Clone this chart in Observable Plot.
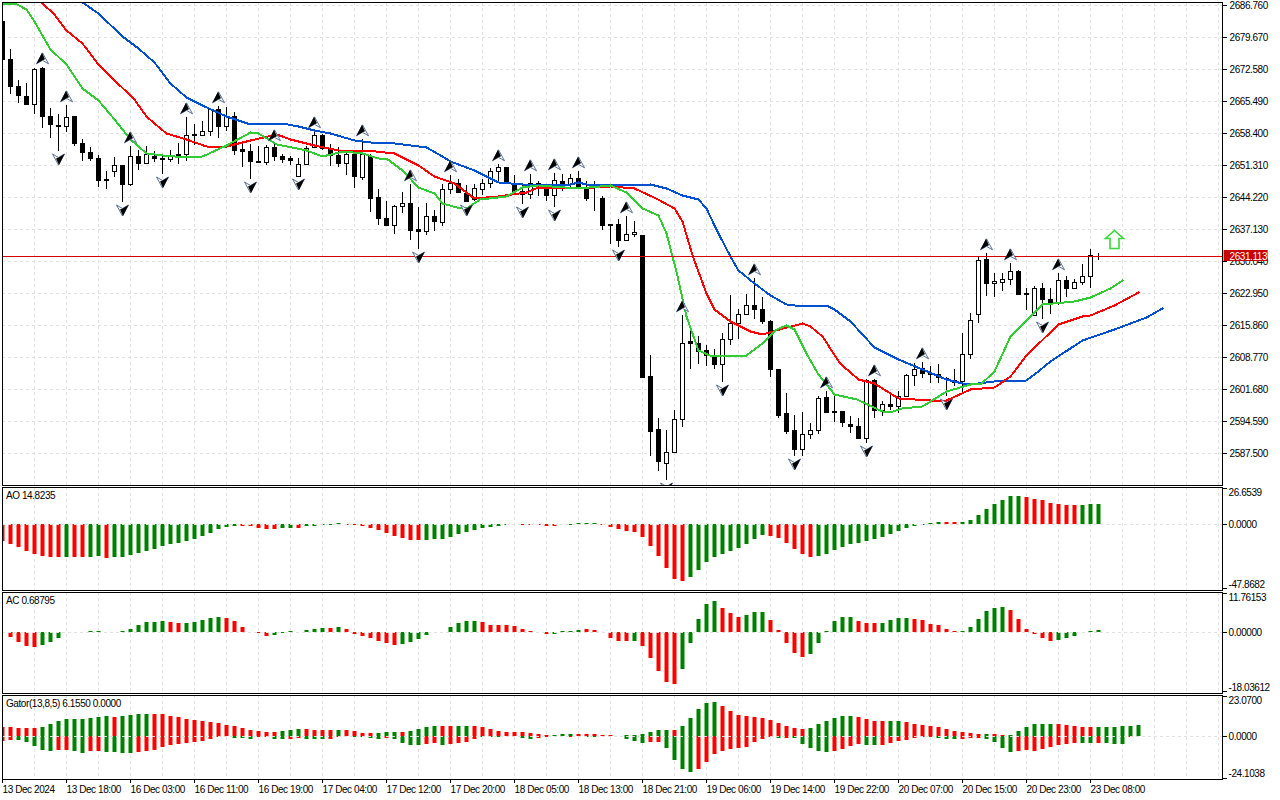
<!DOCTYPE html>
<html><head><meta charset="utf-8">
<script src="https://cdn.jsdelivr.net/npm/d3@7"></script>
<script src="https://cdn.jsdelivr.net/npm/@observablehq/plot@0.6"></script>
<style>html,body{margin:0;padding:0;background:#fff;overflow:hidden}svg{display:block}</style>
</head><body><div id="chart"></div>
<script>
const highs=[2683.2,2676.9,2670.1,2669.4,2672.7,2672.9,2663.9,2662.5,2664.5,2662.1,
2657.0,2655.2,2653.5,2649.9,2653.0,2651.3,2655.4,2654.6,2655.5,2654.3,
2653.2,2654.6,2656.0,2661.9,2660.2,2660.9,2663.9,2664.2,2664.1,2663.0,
2655.9,2655.8,2655.4,2655.6,2655.8,2653.7,2653.2,2652.8,2655.4,2658.7,
2658.1,2655.9,2655.2,2654.3,2654.6,2656.9,2653.7,2645.9,2643.2,2642.3,
2645.3,2646.9,2641.9,2642.8,2641.3,2646.9,2648.9,2648.1,2646.7,2646.9,
2648.0,2650.6,2651.5,2650.8,2648.9,2647.2,2649.1,2647.6,2646.9,2649.5,
2649.1,2649.3,2649.8,2647.6,2647.6,2644.4,2638.2,2639.3,2640.0,2638.8,
2635.8,2609.2,2595.2,2592.4,2597.0,2617.9,2615.5,2613.4,2611.4,2610.5,
2614.0,2622.5,2619.2,2622.7,2626.2,2622.0,2616.8,2606.0,2600.7,2595.9,
2596.5,2594.1,2600.0,2601.1,2600.1,2596.7,2595.5,2595.2,2603.7,2603.8,
2598.9,2600.7,2601.1,2605.0,2607.4,2607.5,2606.6,2607.0,2604.3,2606.0,
2614.0,2618.3,2631.0,2631.7,2627.3,2627.3,2629.4,2628.0,2624.0,2624.4,
2625.1,2624.0,2627.3,2626.7,2626.0,2629.2,2632.7,2631.7];
const bodyTops=[2683.2,2674.7,2668.8,2666.5,2672.5,2672.6,2662.1,2660.1,2661.9,2662.1,
2656.1,2654.1,2652.8,2648.0,2651.2,2651.3,2653.2,2653.2,2653.7,2653.2,
2652.8,2653.5,2653.7,2657.9,2658.1,2658.7,2663.6,2663.6,2662.1,2662.1,
2654.8,2654.3,2652.1,2655.2,2655.2,2653.1,2652.8,2651.5,2655.0,2657.9,
2657.9,2654.9,2653.5,2653.7,2653.7,2653.7,2653.3,2644.1,2639.5,2642.2,
2642.8,2642.8,2637.1,2640.0,2640.0,2645.9,2647.2,2647.2,2645.0,2646.1,
2647.2,2649.8,2650.8,2650.8,2646.9,2645.5,2647.2,2647.2,2646.1,2647.8,
2647.6,2648.3,2648.4,2645.9,2644.0,2643.9,2638.2,2638.2,2635.9,2636.3,
2635.7,2604.5,2592.8,2587.6,2595.0,2611.8,2612.1,2611.8,2610.3,2609.1,
2612.7,2616.2,2618.2,2620.2,2620.2,2619.3,2616.7,2606.0,2596.3,2592.4,
2591.6,2592.5,2599.6,2599.7,2596.7,2596.7,2593.9,2593.4,2603.5,2603.6,
2598.3,2598.3,2600.0,2604.6,2606.1,2606.3,2605.1,2604.9,2604.0,2603.5,
2609.4,2616.9,2630.2,2630.4,2625.5,2626.0,2627.7,2627.8,2622.9,2624.0,
2624.0,2621.6,2625.8,2625.8,2625.3,2626.6,2631.2,2631.3];
const bodyBottoms=[2674.8,2668.7,2666.7,2664.7,2664.7,2662.0,2660.2,2659.8,2659.8,2656.0,
2654.0,2652.7,2647.8,2647.8,2649.9,2647.0,2647.0,2651.6,2651.6,2652.7,
2652.5,2652.5,2653.5,2653.6,2657.9,2657.9,2658.7,2659.8,2659.8,2654.6,
2654.3,2652.1,2651.9,2651.9,2653.2,2652.6,2652.3,2648.8,2651.4,2655.2,
2654.9,2653.5,2651.6,2651.6,2648.7,2648.5,2643.8,2639.4,2637.9,2637.9,
2642.1,2636.8,2636.6,2636.5,2638.8,2638.5,2645.9,2645.2,2643.3,2643.6,
2645.9,2647.2,2649.8,2647.2,2645.4,2644.8,2644.8,2646.1,2644.5,2644.5,
2646.5,2646.9,2646.1,2643.9,2643.9,2637.9,2637.9,2634.6,2634.6,2635.9,
2604.3,2592.2,2585.6,2585.2,2587.6,2595.0,2611.8,2610.1,2609.1,2607.1,
2607.1,2612.7,2616.2,2618.2,2619.2,2616.6,2606.0,2595.9,2592.2,2588.3,
2588.3,2591.6,2592.5,2596.5,2596.5,2594.2,2593.3,2590.7,2590.7,2597.0,
2597.0,2597.8,2597.8,2600.0,2604.6,2605.2,2604.8,2604.2,2603.7,2603.1,
2603.3,2609.4,2618.2,2625.0,2625.0,2625.3,2626.0,2622.6,2622.6,2617.9,
2621.5,2620.9,2620.9,2623.9,2623.9,2625.3,2626.6,2631.2];
const lows=[2674.8,2667.0,2665.0,2664.4,2662.6,2659.4,2657.1,2654.3,2658.6,2655.4,
2652.0,2652.1,2646.3,2645.8,2648.5,2643.1,2646.5,2650.2,2651.6,2651.8,
2649.3,2651.8,2651.5,2652.1,2655.6,2657.8,2657.6,2657.1,2658.7,2653.5,
2650.7,2648.1,2651.7,2651.2,2652.0,2651.7,2651.1,2648.7,2651.1,2655.0,
2654.5,2650.9,2650.7,2648.9,2646.0,2647.8,2640.9,2637.9,2637.9,2635.9,
2640.5,2634.5,2632.7,2635.8,2636.5,2637.6,2644.7,2645.0,2643.0,2643.2,
2644.5,2646.1,2647.6,2646.9,2645.0,2642.5,2643.6,2644.3,2643.2,2641.9,
2645.4,2646.1,2645.8,2643.2,2641.0,2636.8,2633.6,2633.1,2634.5,2635.2,
2604.0,2586.8,2583.5,2581.5,2587.6,2593.1,2605.9,2607.1,2606.6,2606.0,
2603.1,2611.4,2612.7,2618.2,2617.0,2616.0,2604.2,2595.2,2591.7,2586.8,
2586.8,2590.4,2591.5,2596.3,2594.2,2593.2,2591.9,2590.4,2589.5,2595.2,
2595.6,2596.9,2596.3,2599.8,2602.2,2604.1,2602.8,2603.0,2600.0,2602.2,
2600.7,2608.3,2616.2,2622.1,2621.9,2623.3,2624.7,2622.3,2619.0,2617.9,
2617.0,2618.1,2620.1,2621.9,2623.9,2624.6,2624.0,2630.1];
const downBars=[0,1,2,3,5,6,7,9,10,11,12,13,15,17,19,20,24,27,29,30,31,32,34,35,36,40,41,42,44,46,47,48,51,52,54,57,58,63,64,65,67,68,70,72,73,74,75,76,77,80,81,82,86,87,88,89,94,95,96,97,98,99,103,104,105,106,107,109,111,115,116,117,118,119,123,127,128,130,131,133,137];

const jawBars=[9,10,12,15,17,19,21,23,25,28,31,35,37,39,41,44,46,49,53,55,56,59,62,65,71,72,73,76,79,81,83,85,87,88,89.3,91,92,94,96,98,99,103,104,106,109,112,115,118,120,122,124,128,129,131,135,139,143,145];
const jawValues=[2688.2,2687.3,2684.8,2679.8,2677.2,2674.1,2669.4,2666.2,2664.5,2662.0,2660.2,2660.4,2659.9,2658.9,2658.2,2656.7,2656.3,2656.0,2655.1,2653.3,2652.1,2650.2,2647.5,2647.0,2647.1,2647.5,2647.1,2646.9,2646.8,2647.0,2646.1,2644.5,2643.6,2641.7,2636.9,2631.0,2627.9,2625.0,2622.5,2620.5,2620.1,2620.1,2619.3,2616.6,2610.9,2608.3,2606.1,2603.8,2602.9,2602.8,2603.4,2603.5,2604.8,2607.7,2612.4,2614.8,2617.5,2619.5];
const teethBars=[4,4.8,6.4,8,10,12,14,16.4,18,19,20.5,23,25.5,28,31,34.3,36,39,42,45.5,49,52,54,56.5,59,62,65.5,67,72,76,79,81.7,84,85,86.3,88,89,91,93.5,95,97.6,100,101,102.5,104.7,107,109,112,116,118,121,124,126,128,132,135,136,139,142];
const teethValues=[2689.3,2687.3,2684.9,2681.2,2678.3,2673.6,2670.1,2666.1,2662.0,2660.4,2658.3,2657.0,2655.5,2655.4,2656.7,2658.0,2656.9,2655.7,2654.5,2654.6,2653.8,2651.3,2648.7,2647.3,2643.9,2644.4,2645.2,2646.3,2646.1,2646.5,2646.1,2643.8,2641.7,2638.8,2631.0,2622.9,2619.3,2616.6,2614.4,2613.7,2615.1,2616.2,2615.6,2613.3,2607.4,2603.7,2602.9,2599.6,2599.1,2599.2,2601.5,2602.0,2604.4,2609.2,2615.9,2617.7,2618.0,2620.1,2623.1];
const lipsBars=[0,1.8,3,4,6,8,10,12,14,16,18,20,23,25,28,31,32,34.3,38,40,42.6,45,47,48,50,52,54,55,56.8,58,59.7,63,65,67,72,76,78,80,82,83,84.3,85.5,87,88.7,90,93,95,96.8,98,99,100.5,102,104,106.8,110,111,112.4,115,118,121,122.4,124,126,130,134,136,138.5,140];
const lipsValues=[2687.1,2686.8,2685.7,2683.1,2677.0,2673.5,2668.3,2665.7,2661.3,2656.9,2653.9,2653.4,2653.0,2653.2,2655.7,2658.5,2658.3,2655.9,2654.5,2653.3,2654.3,2653.8,2652.8,2652.8,2650.2,2646.4,2645.0,2642.8,2641.9,2641.7,2643.6,2644.4,2646.4,2646.7,2646.1,2646.7,2645.2,2641.7,2640.1,2636.2,2627.3,2617.7,2610.3,2608.9,2609.2,2609.0,2611.8,2614.9,2615.7,2614.8,2609.6,2604.8,2600.4,2599.3,2596.7,2596.5,2597.3,2597.8,2601.1,2602.7,2602.9,2605.5,2613.3,2620.3,2621.0,2622.0,2624.0,2625.7];

const fractalUpBars=[5,8,16,23,27,34,39,45,51,56,62,66,69,72,78,85,94,103,109,115,123,126,132];
const fractalDownBars=[7,15,20,31,37,52,58,65,69,77,83,90,99,108,118,130];
const lastPrice=2631.113;
const signalBar=139, signalPrice=2634.7;

const aoValues=[-12.9,-14.7,-16.9,-19.9,-22.1,-23.6,-24.3,-24.3,-24.3,-24.3,-24.3,-24.3,-24.0,-25.1,-24.3,-24.3,-22.9,-21.4,-19.9,-18.4,-16.1,-14.7,-13.9,-12.4,-10.9,-8.7,-6.5,-3.5,-2.0,-1.2,-1.2,-1.7,-2.7,-3.5,-3.5,-2.7,-2.7,-2.7,-1.7,-1.5,-.7,-.7,.7,-.4,-.7,-1.2,-2.7,-4.2,-6.5,-8.7,-10.2,-11.7,-11.7,
-11.7,-11.0,-11.0,-9.5,-7.2,-5.7,-4.2,-2.7,-2.0,-1.2,-.5,.1,-.7,-.7,-.5,-1.2,-1.2,-.2,-.5,.7,.7,.7,-.5,-2.0,-3.5,-5.0,-5.7,-9.5,-16.1,-23.6,-32.5,-40.7,-42.2,-39.2,-34.0,-28.1,-24.3,-22.1,-19.9,-17.6,-14.7,-10.9,-7.9,-8.7,-10.2,-13.9,-18.4,-22.1,-24.3,-23.6,-22.1,-19.1,
-16.9,-14.7,-13.9,-12.4,-10.9,-9.5,-7.2,-5.0,-2.7,-1.2,-.5,.7,1.7,1.7,1.7,1.7,3.2,7.0,11.4,15.2,18.1,21.1,21.1,20.4,18.9,18.1,15.9,15.2,14.4,14.4,14.4,15.2,14.8235];
const aoRuns=[8,1,2,2,1,16,5,2,1,5,10,12,5,5,11,10,6,16,2,8,7,3];
const aoTicks=["26.6539","0.0000","-47.8682"];

const acValues=[-.1,-1.5,-3.0,-4.3,-4.6,-4.0,-3.0,-1.8,.1,.1,.05,.15,.15,.1,-.1,.2,.9,2.1,3.0,3.0,3.3,3.0,2.7,2.7,3.0,3.6,4.3,4.6,4.3,3.3,1.5,.1,-.4,-1.1,-.8,-.2,.2,.1,.5,.9,1.2,1.2,1.5,.9,-.5,-1.1,-1.8,-2.7,-3.3,-4.0,-3.6,-3.0,-2.1,
-.8,-.1,.1,1.5,2.7,3.3,3.3,3.0,2.1,2.1,2.1,1.8,.9,.3,.1,-.5,-.5,.2,.3,.7,.9,.6,-.1,-1.8,-2.9,-2.9,-2.7,-4.3,-7.9,-11.9,-15.2,-15.8,-11.3,-3.3,4.0,8.5,9.4,7.3,5.8,4.6,5.2,6.1,6.1,3.6,.6,-3.3,-6.4,-7.6,-6.7,-3.3,.2,3.3,
4.6,4.6,3.3,2.7,2.7,2.7,3.6,4.3,4.3,4.0,3.6,2.4,2.1,.9,.3,.3,1.5,4.0,6.4,7.3,7.6,6.7,4.0,.9,-.5,-1.8,-2.7,-2.4,-1.8,-1.1,-.1,.2,.68795];
const acRuns=[5,5,1,2,1,7,2,5,6,3,1,3,1,1,7,10,9,4,6,1,5,5,3,3,5,6,3,4,6,6,6,6];
const acTicks=["11.76153","0.00000","-18.03612"];

const gatorUpper=[5.2,5.2,4.6,4.6,4.6,5.2,6.9,8.7,9.8,9.8,9.8,10.4,11.0,11.6,11.0,11.6,12.1,12.7,12.7,12.7,12.7,11.6,11.0,9.8,9.2,8.7,8.1,7.5,6.4,5.8,4.6,3.5,2.9,2.3,2.3,2.9,3.5,4.0,4.0,3.5,3.5,3.5,3.5,3.5,2.9,1.7,1.7,1.7,2.3,2.3,2.3,2.9,4.0,
5.2,5.8,5.8,5.8,5.8,5.8,5.8,5.2,4.0,2.9,2.3,2.3,2.3,1.7,1.2,.6,.6,1.2,1.2,1.2,1.2,1.2,.6,.6,.1,.6,.6,1.2,2.3,3.5,3.5,3.5,5.8,10.4,15.6,19.1,19.7,17.3,14.5,12.1,11.6,11.0,10.4,9.2,7.5,5.8,4.6,4.0,4.6,6.9,8.7,10.4,
11.6,11.6,11.0,9.8,8.7,8.7,8.7,8.7,8.1,6.9,6.4,5.8,5.2,4.0,2.9,2.3,1.7,1.2,1.2,1.2,.6,.6,2.9,5.2,6.9,6.9,6.9,6.9,6.4,5.8,5.2,5.2,5.2,5.2,5.2,5.8,5.8,6.155];
const gatorUpperRuns=[5,9,1,4,16,3,4,1,4,3,1,4,2,2,10,3,5,7,1,5,11,6,4,2,10,1,2,6,5,6];
const gatorLower=[-2.9,-2.3,-2.3,-3.5,-5.8,-8.1,-8.7,-8.1,-8.1,-8.7,-9.8,-8.9,-8.7,-9.2,-9.2,-9.8,-9.8,-9.2,-8.7,-8.1,-6.4,-5.2,-4.6,-4.0,-3.5,-2.9,-1.7,-.6,-.2,-1.2,-1.2,-1.7,-.6,-.6,-1.7,-1.7,-1.7,-1.2,-1.7,-1.7,-1.7,-1.7,-.4,-.2,-.6,-.6,-1.2,-1.7,-1.2,-1.7,-4.0,-5.2,-5.2,
-4.6,-4.0,-5.2,-4.6,-4.0,-3.5,-1.7,-.4,-.4,-.4,-.1,-.2,-1.2,-1.7,-1.2,-.4,-.2,-.1,-.4,-.2,-.4,-.4,-.2,-.2,-.2,-1.7,-2.9,-4.0,-3.5,-3.5,-6.9,-13.9,-19.1,-20.8,-19.1,-15.0,-10.4,-8.7,-7.5,-6.9,-6.4,-3.5,-1.7,-.4,-1.0,-1.0,-1.2,-4.6,-6.9,-8.7,-9.2,-8.7,
-7.5,-5.8,-4.6,-5.2,-5.2,-5.2,-4.0,-2.9,-2.3,-1.2,-.6,-.4,-1.2,-1.7,-1.7,-1.7,-1.2,-1.2,-1.7,-3.5,-6.9,-9.2,-8.7,-8.1,-8.7,-7.5,-6.4,-5.2,-4.6,-4.0,-4.0,-4.0,-4.0,-4.0,-4.6,-4.6,-.6,-.2];
const gatorLowerRuns=[2,5,2,2,2,4,12,3,2,2,2,3,3,4,1,4,2,1,4,7,2,2,2,3,1,4,2,4,10,1,1,5,4,2,7,3,3,4,8,2,1,3,2];
const gatorTicks=["23.0700","0.0000","-24.1038"];

const priceTicks=[2686.76,2679.67,2672.58,2665.49,2658.40,2651.31,2644.22,2637.13,2630.04,2622.95,2615.86,2608.77,2601.68,2594.59,2587.50];
const timeBars=[0,8,16,24,32,40,48,56,64,72,80,88,96,104,112,120,128,136];
const timeLabels=["13 Dec 2024","13 Dec 18:00","16 Dec 03:00","16 Dec 11:00","16 Dec 19:00","17 Dec 04:00","17 Dec 12:00","17 Dec 20:00","18 Dec 05:00","18 Dec 13:00","18 Dec 21:00","19 Dec 06:00","19 Dec 14:00","19 Dec 22:00","20 Dec 07:00","20 Dec 15:00","20 Dec 23:00","23 Dec 08:00"];

const GRID="#e2e2e2", DASH="3,3", GREEN="#008000", RED="#ff0000";
const gridBars=d3.range(0,153,4);
const xScale={domain:[0,152.5],label:null};
const baseStyle={fontFamily:"'Liberation Sans',sans-serif",fontSize:"10px",letterSpacing:"-0.42px",color:"#000",background:"#fff",overflow:"visible"};
const margins={width:1280,marginLeft:2,marginRight:58,marginTop:0};

const expand=runs=>runs.flatMap((n,k)=>d3.range(n).map(()=>k%2?GREEN:RED));
const bars=(values,runs)=>{const c=expand(runs);return values.map((v,i)=>({i,v,c:c[i]}));};
const histogram=data=>Plot.rect(data,{x1:d=>d.i-.25,x2:d=>d.i+.25,y1:0,y2:"v",fill:"c",dx:.5,clip:true});
const symbolOf=(pts)=>({draw(ctx){pts.forEach(([x,y],k)=>k?ctx.lineTo(x,y):ctx.moveTo(x,y));ctx.closePath();}});
const upFull=symbolOf([[0,-6],[6,5],[0,1.5],[-6,5]]), upHalf=symbolOf([[-.5,-6],[2.5,.5],[0,1.5],[-6,5]]);
const downFull=symbolOf([[0,6],[6,-5],[0,-1.5],[-6,-5]]), downHalf=symbolOf([[.5,6],[-2.5,-.5],[0,-1.5],[6,-5]]);
const bigArrow=symbolOf([[0,-9],[9,-1],[4.5,-1],[4.5,9],[-4.5,9],[-4.5,-1],[-9,-1]]);
const gridV=()=>Plot.gridX(gridBars,{stroke:GRID,strokeOpacity:1,strokeDasharray:DASH});

const candles=d3.range(highs.length).map(i=>({i,h:highs[i],l:lows[i],t:bodyTops[i],b:bodyBottoms[i],down:downBars.includes(i)}));
const line=(xs,ys,stroke)=>Plot.line(xs.map((x,k)=>[x,ys[k]]),{x:"0",y:"1",stroke,strokeWidth:2,clip:true,curve:"linear",shapeRendering:"crispEdges"});
const upF=fractalUpBars.map(i=>({i,p:highs[i]})), dnF=fractalDownBars.map(i=>({i,p:lows[i]}));
const fr=(data,symbol,fill,dy,stroke)=>Plot.dot(data,{x:"i",y:"p",symbol,r:5,fill,stroke,strokeWidth:stroke?0.9:0,dy,clip:true});
const mono=d=>d.toFixed(3);

const main=Plot.plot({...margins,height:487,marginTop:2,marginBottom:2,style:baseStyle,
  x:{...xScale,axis:null},
  y:{domain:[2580.30,2687.32],range:[485,2],round:true,label:null},
  marks:[
    gridV(),
    Plot.gridY(priceTicks,{stroke:GRID,strokeOpacity:1,strokeDasharray:DASH}),
    Plot.ruleX(candles,{x:"i",y1:"l",y2:"h",stroke:"#000",strokeWidth:1,clip:true}),
    Plot.rect(candles,{x1:d=>d.i-.25,x2:d=>d.i+.25,y1:"b",y2:"t",fill:d=>d.down?"#000":"#fff",stroke:"#000",strokeWidth:1,dx:.5,dy:.5,clip:true}),
    line(jawBars,jawValues,"#0050d0"),
    line(teethBars,teethValues,"#ff0000"),
    line(lipsBars,lipsValues,"#32cd32"),
    Plot.ruleY([lastPrice],{stroke:"#d40000",strokeWidth:1}),
    fr(upF,upFull,"#fff",-8.7,"#46628f"),fr(upF,upHalf,"#000",-8.7),
    fr(dnF,downFull,"#fff",7.5,"#46628f"),fr(dnF,downHalf,"#000",7.5),
    Plot.dot([{i:signalBar,p:signalPrice}],{x:"i",y:"p",symbol:bigArrow,r:5,fill:"#fff",stroke:"#38d838",strokeWidth:1.6}),
    Plot.frame({stroke:"#000"}),
    Plot.axisY(priceTicks,{anchor:"right",tickSize:4,tickPadding:3,tickFormat:mono,label:null}),
    Plot.rect([lastPrice],{x1:152.7,x2:158.2,y1:d=>d-1.25,y2:d=>d+1.25,fill:"#c80000"}),
    Plot.text([lastPrice],{y:d=>d,frameAnchor:"right",dx:7,textAnchor:"start",text:mono,fill:"#fff"})
  ]});

function sub(height,bottom,domain,rows,tickVals,tickText,dys,title,extra=[]){
  return Plot.plot({...margins,height,marginBottom:bottom,style:baseStyle,
    x:{...xScale,axis:null},
    y:{domain,range:[height-bottom,0],round:true,label:null},
    marks:[
      gridV(),
      ...rows.map(histogram),
      Plot.ruleY([0],{stroke:GRID,strokeOpacity:1,strokeDasharray:DASH}),
      Plot.frame({stroke:"#000"}),
      Plot.axisY(tickVals,{anchor:"right",tickSize:4,tickFormat:()=>"",label:null}),
      ...tickVals.map((v,k)=>Plot.text([v],{y:d=>d,frameAnchor:"right",dx:6,dy:dys[k],textAnchor:"start",text:()=>tickText[k]})),
      Plot.text([title],{frameAnchor:"top-left",dx:3.5,dy:4,textAnchor:"start",text:d=>d}),
      ...extra
    ]});
}
const ao=sub(105,2,[-49.2,27.55],[bars(aoValues,aoRuns)],[26.6539,0,-47.8682],aoTicks,[4,0,-4],"AO 14.8235");
const ac=sub(103,2,[-18.58,12.13],[bars(acValues,acRuns)],[11.76153,0,-18.03612],acTicks,[4,0,-4],"AC 0.68795");
const gator=sub(105,21,[-24.8,23.76],[bars(gatorUpper,gatorUpperRuns),bars(gatorLower,gatorLowerRuns)],[23.07,0,-24.1038],gatorTicks,[4,0,-5],"Gator(13,8,5) 6.1550 0.0000",
  [Plot.axisX(timeBars,{anchor:"bottom",tickSize:4,tickPadding:2,textAnchor:"start",tickFormat:d=>timeLabels[timeBars.indexOf(d)],label:null})]);
document.getElementById("chart").append(main,ao,ac,gator);
</script></body></html>
